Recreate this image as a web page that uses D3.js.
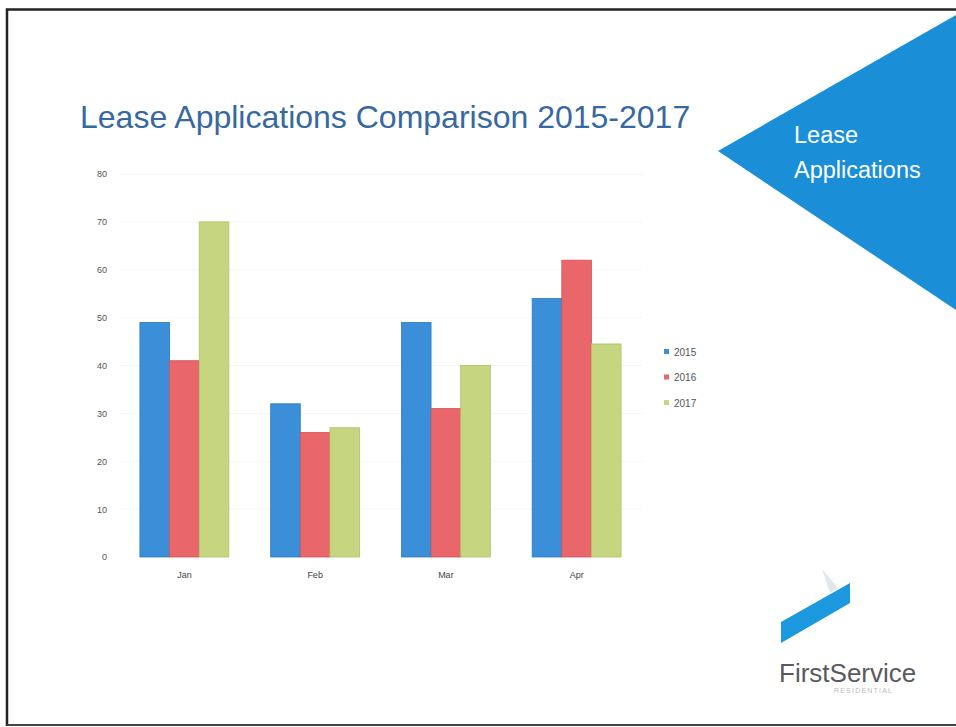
<!DOCTYPE html>
<html>
<head>
<meta charset="utf-8">
<script src="https://cdn.jsdelivr.net/npm/d3@7"></script>
<style>
  body { margin: 0; background: #fff; }
  svg { display: block; font-family: "Liberation Sans", Arial, sans-serif; }
</style>
</head>
<body>
<svg id="chart" width="956" height="727"></svg>
<script>
// chart data
var months = ["Jan", "Feb", "Mar", "Apr"];
var years = ["2015", "2016", "2017"];
var values2015 = [49, 32, 49, 54];
var values2016 = [41, 26, 31, 62];
var values2017 = [70, 27, 40, 44.5];
var yTicks = [0, 10, 20, 30, 40, 50, 60, 70, 80];
var colors = ["#3a8fd8", "#e9676b", "#c6d680"];
var strokes = ["#2f7bbd", "#d25257", "#b0c268"];

var svg = d3.select("#chart");

// slide frame
svg.append("path")
  .attr("d", "M7,726 L7,9.5 L956,9.5")
  .attr("fill", "none")
  .attr("stroke", "#222")
  .attr("stroke-width", 2.5);
svg.append("line")
  .attr("x1", 7).attr("x2", 956).attr("y1", 725).attr("y2", 725)
  .attr("stroke", "#444").attr("stroke-width", 2);

// blue triangle in the corner
svg.append("path")
  .attr("d", "M718,151 L956,15 L956,310 Z")
  .attr("fill", "#1a8ed6");
svg.append("text")
  .attr("x", 794).attr("y", 143)
  .attr("fill", "#fff").attr("font-size", 23.5)
  .text("Lease");
svg.append("text")
  .attr("x", 794).attr("y", 178)
  .attr("fill", "#fff").attr("font-size", 23.5)
  .text("Applications");

// title
svg.append("text")
  .attr("x", 80).attr("y", 128)
  .attr("fill", "#3768a2")
  .attr("font-size", 32)
  .text("Lease Applications Comparison 2015-2017");

// scales
var x0 = d3.scaleBand()
  .domain(months)
  .range([119, 642])
  .paddingInner(0.32)
  .paddingOuter(0.16);

var x1 = d3.scaleBand()
  .domain(years)
  .range([0, x0.bandwidth()]);

var y = d3.scaleLinear()
  .domain([0, 80])
  .range([557, 174]);

// faint gridlines
svg.append("g")
  .selectAll("line")
  .data(yTicks.slice(1))
  .enter()
  .append("line")
  .attr("x1", 119).attr("x2", 642)
  .attr("y1", function(d) { return y(d); })
  .attr("y2", function(d) { return y(d); })
  .attr("stroke", "#f5f5f5");

// y axis labels
var yAxis = d3.axisLeft(y).tickValues(yTicks).tickSize(0).tickPadding(0);
var gy = svg.append("g")
  .attr("transform", "translate(107,0)")
  .call(yAxis);
gy.select(".domain").remove();
gy.selectAll("text")
  .attr("font-family", "'Liberation Sans', Arial, sans-serif")
  .attr("font-size", 9)
  .attr("fill", "#555");

// x axis labels
var xAxis = d3.axisBottom(x0).tickSize(0).tickPadding(0);
var gx = svg.append("g")
  .attr("transform", "translate(0,572)")
  .call(xAxis);
gx.select(".domain").remove();
gx.selectAll("text")
  .attr("font-family", "'Liberation Sans', Arial, sans-serif")
  .attr("font-size", 9)
  .attr("fill", "#444");

// bars
var series = [values2015, values2016, values2017];
var groups = svg.append("g")
  .selectAll("g")
  .data(months)
  .enter()
  .append("g")
  .attr("transform", function(d) { return "translate(" + x0(d) + ",0)"; });

groups.selectAll("rect")
  .data(function(m, i) {
    return years.map(function(yr, j) { return { year: yr, idx: j, value: series[j][i] }; });
  })
  .enter()
  .append("rect")
  .attr("x", function(d) { return x1(d.year); })
  .attr("y", function(d) { return y(d.value); })
  .attr("width", x1.bandwidth())
  .attr("height", function(d) { return y(0) - y(d.value); })
  .attr("fill", function(d) { return colors[d.idx]; })
  .attr("stroke", function(d) { return strokes[d.idx]; })
  .attr("stroke-width", 0.8);

// legend
var legend = svg.append("g")
  .selectAll("g")
  .data(years)
  .enter()
  .append("g")
  .attr("transform", function(d, i) { return "translate(664," + (349 + i * 25.5) + ")"; });
legend.append("rect")
  .attr("width", 5).attr("height", 5)
  .attr("fill", function(d, i) { return colors[i]; });
legend.append("text")
  .attr("x", 10).attr("y", 6.5)
  .attr("font-size", 10)
  .attr("fill", "#555")
  .text(function(d) { return d; });

// logo
svg.append("path")
  .attr("d", "M822,569 L838,588 L830,593 Z")
  .attr("fill", "#e3e6ea");
svg.append("path")
  .attr("d", "M781,622 L850,583 L850,603 L781,643 Z")
  .attr("fill", "#1b98de");
svg.append("text")
  .attr("x", 779).attr("y", 682)
  .attr("fill", "#5a5a5e")
  .attr("font-size", 26)
  .text("FirstService");
svg.append("text")
  .attr("x", 834).attr("y", 693)
  .attr("fill", "#bbb")
  .attr("font-size", 7)
  .attr("letter-spacing", 1.2)
  .text("RESIDENTIAL");
</script>
</body>
</html>
